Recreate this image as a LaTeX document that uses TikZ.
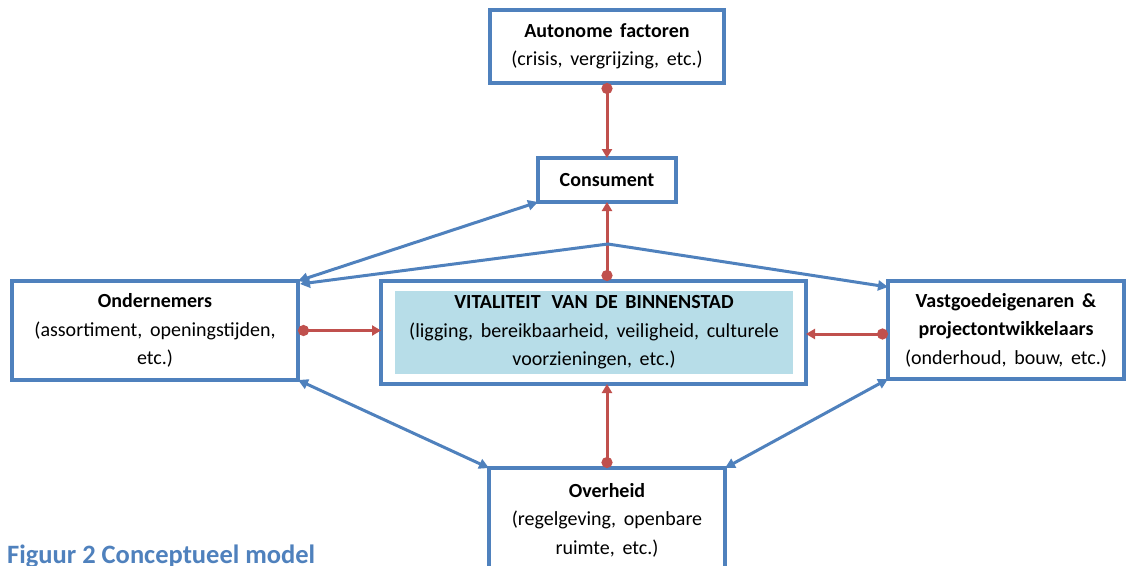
\documentclass[tikz,border=0pt]{standalone}
\usepackage{fontspec}
\setmainfont{Carlito}[WordSpace=1.7]
\newfontfamily\capfont{Carlito}
\usetikzlibrary{arrows.meta,calc}
\definecolor{boxblue}{HTML}{4F81BD}
\definecolor{linkred}{HTML}{C0504D}
\definecolor{vitfill}{HTML}{B7DDE8}
\begin{document}
\begin{tikzpicture}[x=1pt,y=-1pt,
  box/.style={draw=boxblue, line width=3.5pt, fill=white, align=center, inner sep=0pt, outer sep=0pt, font=\fontsize{20}{28.5}\selectfont, text=black},
  redlink/.style={draw=linkred, line width=3pt, {Circle[length=11pt]}-{Triangle[length=9pt,width=10pt]}},
  bluelink/.style={draw=boxblue, line width=3pt, {Triangle[length=10pt,width=10pt]}-{Triangle[length=10pt,width=10pt]}}]
\clip (0,0) rectangle (1126,565);
\fill[white] (0,0) rectangle (1126,565);
% boxes
\node[box, minimum width=234pt, minimum height=73pt] (auto) at (607,46.5) {\textbf{Autonome factoren}\\(crisis, vergrijzing, etc.)};
\node[box, minimum width=138pt, minimum height=44pt] (cons) at (607,180) {\textbf{Consument}};
\node[box, minimum width=425pt, minimum height=103pt] (vit) at (593.5,332.5) {};
\node[fill=vitfill, minimum width=398pt, minimum height=83pt, inner sep=0pt, align=center, font=\fontsize{20}{28.5}\selectfont, text=black] (vittext) at (594,332.5) {\textbf{VITALITEIT\hspace{11pt}VAN DE BINNENSTAD}\\(ligging, bereikbaarheid, veiligheid, culturele\\voorzieningen, etc.)};
\node[box, minimum width=286pt, minimum height=99pt] (ond) at (155,330.5) {\textbf{Ondernemers}\\(assortiment, openingstijden,\\etc.)};
\node[box, minimum width=236pt, minimum height=98pt] (vast) at (1006,330) {\textbf{Vastgoedeigenaren \&}\\\textbf{projectontwikkelaars}\\(onderhoud, bouw, etc.)};
\node[box, minimum width=236pt, minimum height=104pt] (over) at (607,520) {\textbf{Overheid}\\(regelgeving, openbare\\ruimte, etc.)};
% caption
\node[anchor=base west, inner sep=0pt, text=boxblue, font=\capfont\fontsize{26.5}{30}\selectfont\bfseries] (cap) at (7,563) {Figuur 2 Conceptueel model};
% red connectors
\draw[redlink] (auto.south) -- (cons.north);
\draw[redlink] (vit.north -| cons.north) -- (cons.south);
\draw[redlink] (over.north) -- (vit.south -| over.north);
\draw[redlink] (ond.east) -- (vit.west |- ond.east);
\draw[redlink] ($(vast.west)+(0,4)$) -- ($(vit.east |- vast.west)+(0,4)$);
% blue connectors
\coordinate (apex) at (608,244);
\draw[bluelink] ($(ond.north east)+(2,3)$) -- (apex) -- ($(vast.north west)+(0,6)$);
\draw[bluelink] (ond.north east) -- (cons.south west);
\draw[bluelink] (ond.south east) -- (over.north west);
\draw[bluelink] (vast.south west) -- (over.north east);
\end{tikzpicture}
\end{document}
